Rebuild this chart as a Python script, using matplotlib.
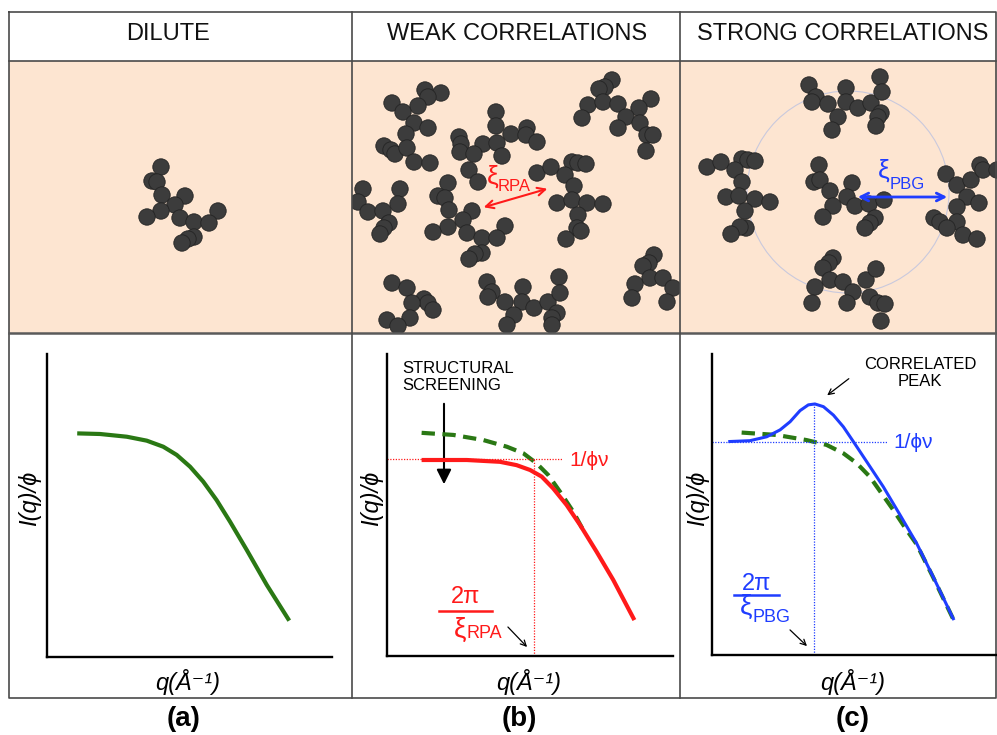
import matplotlib
matplotlib.use('Agg')
import matplotlib.pyplot as plt
from matplotlib.patches import Circle, Rectangle
from matplotlib.collections import PatchCollection

plt.rcParams['font.family'] = ['Liberation Sans', 'DejaVu Sans']

# ---------------- data ----------------
headers = ["DILUTE", "WEAK CORRELATIONS", "STRONG CORRELATIONS"]
panel_tags = ["(a)", "(b)", "(c)"]

# bead centres (pixel units of the schematic panels)
dilute_x = [161, 152, 157, 162, 185, 175, 161, 147, 180, 194, 218, 209, 194, 188, 182]
dilute_y = [167, 181, 182, 195, 196, 205, 211, 217, 218, 222, 211, 223, 237, 239, 243]

weak_xy = [
    (425, 90), (441, 93), (428, 97), (392, 103), (418, 106), (403, 112), (414, 123), (428, 128),
    (406, 134), (384, 146), (391, 150), (395, 154), (407, 148), (414, 162), (430, 163),
    (496, 112), (496, 126), (511, 134), (527, 128), (526, 135), (537, 142), (459, 137), (461, 144),
    (460, 152), (483, 144), (497, 143), (474, 154), (502, 156), (469, 170), (478, 182),
    (612, 80), (605, 87), (599, 89), (588, 105), (603, 102), (618, 104), (651, 99), (639, 108),
    (626, 117), (582, 118), (618, 128), (640, 123), (647, 135), (653, 135), (646, 151),
    (537, 173), (551, 167), (572, 162), (578, 163), (586, 164), (565, 175), (574, 186), (557, 203),
    (572, 200), (587, 203), (603, 204), (578, 215), (577, 228), (581, 231), (566, 239),
    (363, 189), (358, 202), (400, 189), (398, 204), (368, 212), (383, 211), (389, 223), (384, 228),
    (380, 234),
    (448, 183), (438, 196), (445, 198), (449, 210), (472, 211), (463, 220), (448, 227), (433, 232),
    (467, 233), (482, 238), (505, 226), (497, 238), (482, 253), (475, 254), (469, 259),
    (392, 283), (407, 288), (424, 299), (428, 303), (433, 310), (412, 303), (410, 318), (387, 320),
    (398, 326),
    (487, 282), (492, 292), (488, 297), (505, 302), (523, 287), (522, 302), (534, 308), (548, 302),
    (559, 277), (560, 293), (557, 313), (552, 318), (552, 325), (514, 315), (507, 325),
    (654, 255), (649, 263), (643, 266), (650, 278), (635, 284), (663, 278), (673, 288), (632, 298),
    (667, 302),
]
weak_x = [p[0] for p in weak_xy]
weak_y = [p[1] for p in weak_xy]

strong_xy = [
    (809, 85), (816, 97), (812, 102), (828, 104), (846, 88), (846, 102), (858, 108), (871, 103),
    (880, 77), (882, 92), (881, 113), (878, 117), (876, 126), (838, 117), (832, 130),
    (707, 167), (721, 162), (742, 159), (748, 160), (755, 161), (735, 170), (742, 182), (726, 197),
    (739, 196), (755, 199), (770, 202), (745, 211), (746, 228), (740, 227), (731, 234),
    (819, 165), (814, 182), (820, 180), (830, 191), (852, 183), (847, 197), (833, 206), (855, 206),
    (869, 204), (884, 200), (823, 217), (875, 218), (870, 223), (865, 228),
    (946, 174), (957, 185), (971, 180), (980, 165), (983, 170), (997, 170), (967, 197), (979, 203),
    (957, 207), (934, 218), (940, 222), (957, 222), (947, 228), (963, 235), (977, 239),
    (833, 258), (829, 263), (823, 268), (830, 280), (815, 287), (843, 282), (853, 292), (866, 280),
    (876, 269), (812, 303), (870, 297), (847, 303), (878, 303), (885, 304), (881, 321),
]
strong_x = [p[0] for p in strong_xy]
strong_y = [p[1] for p in strong_xy]

# scattering curves (normalised q, I/phi)
a_q = [0.106, 0.186, 0.280, 0.350, 0.408, 0.455, 0.502, 0.548, 0.595, 0.642, 0.701, 0.771, 0.850]
a_I = [0.738, 0.736, 0.727, 0.714, 0.694, 0.667, 0.628, 0.579, 0.518, 0.447, 0.353, 0.238, 0.120]

b_q_rpa = [0.121, 0.279, 0.395, 0.453, 0.500, 0.541, 0.581, 0.628, 0.675, 0.733, 0.791, 0.865]
b_I_rpa = [0.649, 0.649, 0.643, 0.632, 0.616, 0.594, 0.555, 0.500, 0.434, 0.345, 0.252, 0.119]
b_q_dil = [0.121, 0.232, 0.337, 0.419, 0.477, 0.523, 0.564, 0.605, 0.651, 0.690]
b_I_dil = [0.739, 0.732, 0.715, 0.693, 0.671, 0.638, 0.599, 0.544, 0.478, 0.410]

c_q_pbg = [0.057, 0.133, 0.192, 0.239, 0.274, 0.309, 0.338, 0.361, 0.391, 0.426, 0.461, 0.496,
           0.543, 0.601, 0.660, 0.718, 0.776, 0.849]
c_I_pbg = [0.709, 0.712, 0.725, 0.748, 0.775, 0.812, 0.831, 0.834, 0.825, 0.797, 0.758, 0.709,
           0.642, 0.559, 0.465, 0.371, 0.260, 0.116]
c_q_dil = [0.104, 0.227, 0.332, 0.402, 0.461, 0.508, 0.554, 0.595, 0.636, 0.683, 0.718, 0.776, 0.849]
c_I_dil = [0.739, 0.731, 0.714, 0.698, 0.670, 0.637, 0.592, 0.537, 0.482, 0.415, 0.368, 0.258, 0.114]

b_level, b_qxi = 0.652, 0.514
c_level, c_qxi, c_peak = 0.708, 0.358, 0.834

# ---------------- figure ----------------
W, H = 997, 735
fig = plt.figure(figsize=(W / 100, H / 100), dpi=100)
ov = fig.add_axes([0, 0, 1, 1])
ov.set_xlim(0, W)
ov.set_ylim(H, 0)
ov.axis('off')

GREEN = '#2a7814'
RED = '#ff1a1a'
BLUE = '#1f3dff'
FRAME = '#4a4a4a'

col_edges = [9, 352, 680, 997]
top0, top1 = 61, 333

ov.add_patch(Rectangle((9, top0), 988, top1 - top0, fc='#fde5d1', ec='none', zorder=0))

# frame
ov.plot([9, 996, 996, 9, 9], [12, 12, 698, 698, 12], color=FRAME, lw=1.2, zorder=5)
ov.plot([9, 996], [top0, top0], color=FRAME, lw=1.2, zorder=5)
ov.plot([9, 996], [top1, top1], color='#5a5a5a', lw=1.8, zorder=5)
for xv in col_edges[1:3]:
    ov.plot([xv, xv], [12, 698], color=FRAME, lw=1.2, zorder=5)

# headers
for cx, h in zip([168, 517, 843], headers):
    ov.text(cx, 34, h, fontsize=17, ha='center', va='center', color='#111111')

# beads
R = 8.2
for (bx, by), (x0, x1) in zip([(dilute_x, dilute_y), (weak_x, weak_y), (strong_x, strong_y)],
                               [(9, 352), (352, 680), (680, 997)]):
    circles = [Circle((x, y), R) for x, y in zip(bx, by)]
    coll = PatchCollection(circles, facecolor='#3c3c3c', edgecolor='#242424', linewidth=0.6, zorder=2)
    ov.add_collection(coll)
    clip = Rectangle((x0, top0), x1 - x0, top1 - top0, transform=ov.transData)
    coll.set_clip_path(clip)

# correlation circle in strong panel
ov.add_patch(Circle((848, 192), 101, fill=False, ec='#c9c9dd', lw=0.8, zorder=1))


def xi_label(xc, yc, sub, sx, sy, color, size=19, subsize=12):
    ov.text(xc, yc, 'ξ', color=color, fontsize=size, ha='center', va='center', zorder=4)
    ov.text(sx, sy, sub, color=color, fontsize=subsize, ha='left', va='center', zorder=4)


# xi arrows in schematic
ov.annotate('', xy=(481, 208), xytext=(550, 188),
            arrowprops=dict(arrowstyle='<->', color=RED, lw=1.5, mutation_scale=14), zorder=4)
xi_label(493, 177, 'RPA', 498, 186, RED)
ov.annotate('', xy=(855, 197), xytext=(950, 197),
            arrowprops=dict(arrowstyle='<->', color=BLUE, lw=2, mutation_scale=14), zorder=4)
xi_label(884, 171, 'PBG', 890, 184, BLUE)


def pax(x0, x1, y0, y1):
    ax = fig.add_axes([x0 / W, 1 - y1 / H, (x1 - x0) / W, (y1 - y0) / H])
    ax.set_xlim(0, 1)
    ax.set_ylim(0, 1)
    ax.patch.set_alpha(0)
    for s in ['top', 'right']:
        ax.spines[s].set_visible(False)
    for s in ['left', 'bottom']:
        ax.spines[s].set_linewidth(1.7)
        ax.spines[s].set_color('black')
    ax.set_xticks([])
    ax.set_yticks([])
    return ax


axa = pax(47, 332, 354, 657)
axb = pax(387, 673, 354, 656)
axc = pax(712, 997, 354, 655)

axa.plot(a_q, a_I, color=GREEN, lw=3, solid_capstyle='butt', solid_joinstyle='round')

axb.plot(b_q_dil, b_I_dil, color=GREEN, lw=3, dashes=(3.2, 1.8))
axb.plot(b_q_rpa, b_I_rpa, color=RED, lw=3, solid_capstyle='butt', solid_joinstyle='round')
axb.plot([0, 0.612], [b_level, b_level], color=RED, lw=0.9, ls=(0, (1, 1.2)))
axb.plot([b_qxi, b_qxi], [0, b_level], color=RED, lw=0.9, ls=(0, (1, 1.2)))

axc.plot(c_q_dil, c_I_dil, color=GREEN, lw=3, dashes=(3.2, 1.8))
axc.plot(c_q_pbg, c_I_pbg, color=BLUE, lw=2.2, solid_capstyle='butt', solid_joinstyle='round')
axc.plot([0, 0.614], [c_level, c_level], color=BLUE, lw=0.9, ls=(0, (1, 1.2)))
axc.plot([c_qxi, c_qxi], [0, c_peak], color=BLUE, lw=0.9, ls=(0, (1, 1.2)))

# axis labels
for xl, xq in zip([30, 372, 698], [188, 529, 853]):
    ov.text(xl, 498, 'I(q)/ϕ', rotation=90, fontsize=17, style='italic', ha='center', va='center')
    ov.text(xq, 682, 'q(Å⁻¹)', fontsize=17, style='italic', ha='center', va='center')
for xt, t in zip([184, 519, 853], panel_tags):
    ov.text(xt, 719, t, fontsize=20, fontweight='bold', ha='center', va='center')

# panel (b) annotations
ov.text(402, 377, 'STRUCTURAL\nSCREENING', fontsize=12, ha='left', va='center', linespacing=1.1)
ov.annotate('', xy=(444, 487), xytext=(444, 401),
            arrowprops=dict(arrowstyle='-|>', color='black', lw=1.5, mutation_scale=22))
ov.text(569, 460, '1/ϕν', color=RED, fontsize=15, ha='left', va='center')
ov.text(466, 597, '2π', color=RED, fontsize=17, ha='center', va='center')
ov.plot([439, 492], [611, 611], color=RED, lw=1.8)
xi_label(460, 630, 'RPA', 466, 634, RED, size=20, subsize=13)
ov.annotate('', xy=(529, 649), xytext=(506, 625),
            arrowprops=dict(arrowstyle='->', color='black', lw=0.9, mutation_scale=10))

# panel (c) annotations
ov.text(920, 373, 'CORRELATED\nPEAK', fontsize=12, ha='center', va='center', linespacing=1.2)
ov.annotate('', xy=(825, 397), xytext=(851, 377),
            arrowprops=dict(arrowstyle='->', color='black', lw=0.9, mutation_scale=10))
ov.text(893, 442, '1/ϕν', color=BLUE, fontsize=15, ha='left', va='center')
ov.text(757, 584, '2π', color=BLUE, fontsize=17, ha='center', va='center')
ov.plot([734, 779], [595, 595], color=BLUE, lw=1.8)
xi_label(746, 607, 'PBG', 752, 618, BLUE, size=20, subsize=13)
ov.annotate('', xy=(809, 648), xytext=(788, 628),
            arrowprops=dict(arrowstyle='->', color='black', lw=0.9, mutation_scale=10))

fig.savefig('out.png', dpi=100)
